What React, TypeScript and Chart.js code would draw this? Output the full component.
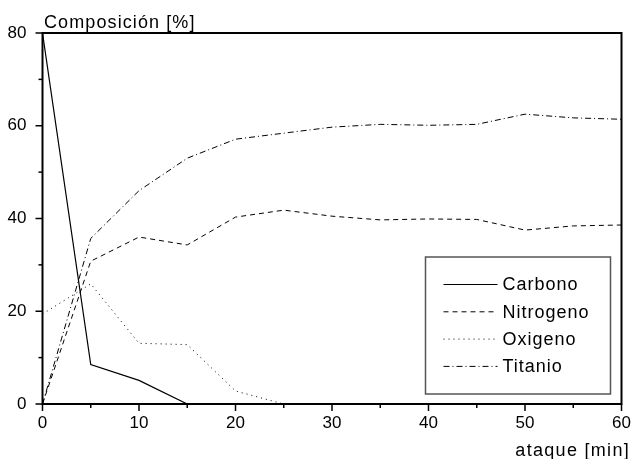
import React, { useEffect, useRef } from 'react';
import { Chart, registerables } from 'chart.js';
Chart.register(...registerables);

const minutes = [0, 5, 10, 15, 20, 25, 30, 35, 40, 45, 50, 55, 60];
const carbono = [80, 8.5, 5.1, 0];
const nitrogeno = [0, 30.8, 36, 34.3, 40.3, 41.8, 40.5, 39.7, 39.9, 39.8, 37.5, 38.4, 38.6];
const oxigeno = [19.4, 25.9, 13.1, 12.8, 2.8, 0];
const titanio = [0, 35.7, 46, 53, 57.1, 58.4, 59.7, 60.3, 60.1, 60.3, 62.5, 61.7, 61.4];
const seriesNames = ['Carbono', 'Nitrogeno', 'Oxigeno', 'Titanio'];
const xTicksMajor = [0, 10, 20, 30, 40, 50, 60];
const yTicksMajor = [0, 20, 40, 60, 80];
const yTitle = 'Composición [%]';
const xTitle = 'ataque [min]';

const FONT = '"Liberation Sans", Arial, Helvetica, sans-serif';

const toPoints = (vals: number[]) => vals.map((v, i) => ({ x: minutes[i], y: v }));

const decorPlugin = {
  id: 'decor',
  afterDraw(chart: any) {
    const { ctx, chartArea, scales } = chart;
    const { left, right, top, bottom } = chartArea;
    const xs = scales.x;
    const ys = scales.y;
    ctx.save();
    // frame
    ctx.strokeStyle = '#000';
    ctx.lineWidth = 2;
    ctx.setLineDash([]);
    ctx.strokeRect(left, top, right - left, bottom - top);
    // ticks
    ctx.lineWidth = 1.5;
    for (let v = 0; v <= 60; v += 5) {
      const x = xs.getPixelForValue(v);
      const len = v % 10 === 0 ? 7 : 4;
      ctx.beginPath();
      ctx.moveTo(x, bottom);
      ctx.lineTo(x, bottom + len);
      ctx.stroke();
    }
    for (let v = 0; v <= 80; v += 10) {
      const y = ys.getPixelForValue(v);
      const len = v % 20 === 0 ? 7 : 4;
      ctx.beginPath();
      ctx.moveTo(left, y);
      ctx.lineTo(left - len, y);
      ctx.stroke();
    }
    // titles
    ctx.fillStyle = '#000';
    ctx.font = `18px ${FONT}`;
    (ctx as any).letterSpacing = '1.1px';
    ctx.textAlign = 'left';
    ctx.textBaseline = 'alphabetic';
    ctx.fillText(yTitle, 44, 27.5);
    (ctx as any).letterSpacing = '1.3px';
    ctx.textAlign = 'right';
    ctx.fillText(xTitle, 630, 456);
    // legend
    const bx = right - 196;
    const by = bottom - 147;
    ctx.strokeStyle = '#555';
    ctx.lineWidth = 1.5;
    ctx.strokeRect(bx, by, 185, 137);
    (ctx as any).letterSpacing = '1px';
    ctx.textAlign = 'left';
    ctx.textBaseline = 'middle';
    chart.data.datasets.forEach((ds: any, i: number) => {
      const y = by + 27.5 + i * 27.3;
      ctx.strokeStyle = '#000';
      ctx.lineWidth = 1;
      ctx.setLineDash(ds.borderDash || []);
      ctx.beginPath();
      ctx.moveTo(bx + 18, y);
      ctx.lineTo(bx + 72, y);
      ctx.stroke();
      ctx.setLineDash([]);
      ctx.fillText(ds.label, bx + 77, y + 1);
    });
    ctx.restore();
  },
};

export default function App() {
  const ref = useRef<HTMLCanvasElement>(null);
  useEffect(() => {
    if (!ref.current) return;
    const chart = new Chart(ref.current, {
      type: 'line',
      data: {
        datasets: [
          { label: seriesNames[0], data: toPoints(carbono), borderColor: '#000', borderWidth: 1.2, borderDash: [], pointRadius: 0, tension: 0 },
          { label: seriesNames[1], data: toPoints(nitrogeno), borderColor: '#000', borderWidth: 1, borderDash: [5, 4], pointRadius: 0, tension: 0 },
          { label: seriesNames[2], data: toPoints(oxigeno), borderColor: '#000', borderWidth: 1, borderDash: [1, 4], pointRadius: 0, tension: 0 },
          { label: seriesNames[3], data: toPoints(titanio), borderColor: '#000', borderWidth: 1, borderDash: [6, 3, 1, 3], pointRadius: 0, tension: 0 },
        ],
      },
      options: {
        responsive: false,
        animation: false,
        devicePixelRatio: 1,
        layout: { padding: { top: 33, right: 9.5, left: 0, bottom: 0 } },
        plugins: { legend: { display: false }, tooltip: { enabled: false }, title: { display: false } },
        scales: {
          x: {
            type: 'linear',
            min: 0,
            max: 60,
            afterFit: (s: any) => { s.height = 55; s.paddingLeft = 0; s.paddingRight = 0; },
            afterBuildTicks: (s: any) => { s.ticks = xTicksMajor.map((v) => ({ value: v })); },
            grid: { display: false, drawTicks: false },
            border: { display: false },
            ticks: { color: '#000', font: { size: 17, family: FONT }, padding: 9, maxRotation: 0 },
          },
          y: {
            type: 'linear',
            min: 0,
            max: 80,
            afterFit: (s: any) => { s.width = 42.5; s.paddingTop = 0; s.paddingBottom = 0; },
            afterBuildTicks: (s: any) => { s.ticks = yTicksMajor.map((v) => ({ value: v })); },
            grid: { display: false, drawTicks: false },
            border: { display: false },
            ticks: { color: '#000', font: { size: 17, family: FONT }, padding: 16 },
          },
        },
      },
      plugins: [decorPlugin],
    });
    return () => chart.destroy();
  }, []);
  return (
    <div style={{ position: 'absolute', left: 0, top: 0, width: 631, height: 459, background: '#fff' }}>
      <canvas ref={ref} width={631} height={459} />
    </div>
  );
}
